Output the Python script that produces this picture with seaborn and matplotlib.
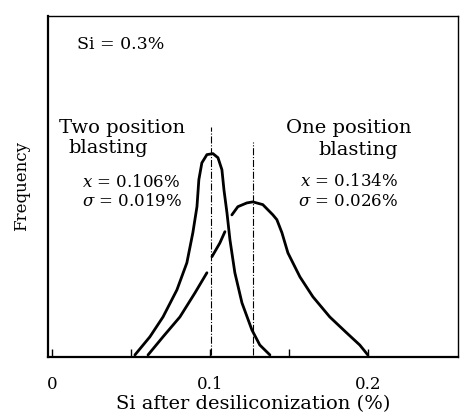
import matplotlib
matplotlib.use("Agg")
import matplotlib.pyplot as plt
import seaborn as sns
import numpy as np
import pandas as pd

# Two position blasting curve
twoX = [0.0525, 0.062, 0.0703, 0.0791, 0.0854, 0.0892, 0.0918, 0.0930, 0.0949,
        0.0981, 0.1019, 0.1051, 0.1076, 0.1089, 0.1108, 0.1127, 0.1158, 0.1203,
        0.1266, 0.1316, 0.138]
twoY = [0.0, 0.053, 0.111, 0.190, 0.269, 0.357, 0.433, 0.512, 0.561,
        0.585, 0.588, 0.576, 0.541, 0.482, 0.415, 0.336, 0.240, 0.152,
        0.073, 0.029, 0.0]

# One position blasting curve, drawn in three pieces (gaps where it crosses)
oneX = [0.0608, 0.0703, 0.0810, 0.0905, 0.0981,
        0.1013, 0.1063, 0.1095,
        0.1139, 0.1177, 0.1234, 0.1272, 0.1335, 0.1399, 0.1424, 0.1456, 0.1494,
        0.1570, 0.1652, 0.1759, 0.1867, 0.1949, 0.200]
oneY = [0.0, 0.053, 0.111, 0.181, 0.240,
        0.287, 0.327, 0.360,
        0.409, 0.433, 0.444, 0.447, 0.439, 0.409, 0.395, 0.357, 0.298,
        0.228, 0.170, 0.111, 0.064, 0.029, 0.0]
onePiece = [0] * 5 + [1] * 3 + [2] * 15

# mean lines
meanX = [0.101, 0.127]
meanTop = [0.667, 0.623]

xTicks = [0, 0.1, 0.2]
xTickLabels = ["0", "0.1", "0.2"]
minorTicks = [0.05, 0.15]


def main():
    sns.set_style("white")
    plt.rcParams['font.family'] = ['DejaVu Serif']
    plt.rcParams['mathtext.fontset'] = 'dejavuserif'
    plt.rcParams['text.color'] = 'black'
    plt.rcParams['axes.labelcolor'] = 'black'
    plt.rcParams['xtick.color'] = 'black'

    fig = plt.figure(figsize=(4.62, 4.2), dpi=100)
    ax = fig.add_axes([0.104, 0.15, 0.887, 0.812])

    two = pd.DataFrame({"x": twoX, "y": twoY})
    one = pd.DataFrame({"x": oneX, "y": oneY, "piece": onePiece})

    sns.lineplot(data=two, x="x", y="y", color="black", linewidth=2.0, ax=ax)
    sns.lineplot(data=one, x="x", y="y", units="piece", estimator=None,
                 color="black", linewidth=2.0, ax=ax)

    #mean value lines
    for mx, top in zip(meanX, meanTop):
        ax.plot([mx, mx], [0, top], color="black", linewidth=0.8, linestyle="-.")

    ax.set_xlim(-0.0025, 0.257)
    ax.set_ylim(-0.006, 0.99)

    ax.set_xticks(xTicks)
    ax.set_xticklabels(xTickLabels, fontsize=12)
    ax.set_xticks(minorTicks, minor=True)
    ax.tick_params(axis="x", which="both", direction="in", length=6, width=1,
                   bottom=True, pad=14, colors="black")
    ax.set_yticks([])

    for side in ["left", "bottom"]:
        ax.spines[side].set_linewidth(1.6)
    for side in ["top", "right"]:
        ax.spines[side].set_linewidth(1.0)
    for sp in ax.spines.values():
        sp.set_color("black")

    ax.set_xlabel("Si after desiliconization (%)", fontsize=14, labelpad=1)
    ax.set_ylabel("Frequency", fontsize=12, labelpad=13)

    #annotations
    ax.text(0.0158, 0.906, "Si = 0.3%", fontsize=12.5, va="center", ha="left")
    ax.text(0.0443, 0.664, "Two position", fontsize=14, va="center", ha="center")
    ax.text(0.0354, 0.605, "blasting", fontsize=14, va="center", ha="center")
    ax.text(0.019, 0.503, r"$x$ = 0.106%", fontsize=12, va="center", ha="left")
    ax.text(0.019, 0.447, r"$\sigma$ = 0.019%", fontsize=12, va="center", ha="left")
    ax.text(0.188, 0.664, "One position", fontsize=14, va="center", ha="center")
    ax.text(0.219, 0.599, "blasting", fontsize=14, va="center", ha="right")
    ax.text(0.219, 0.506, r"$x$ = 0.134%", fontsize=12, va="center", ha="right")
    ax.text(0.219, 0.447, r"$\sigma$ = 0.026%", fontsize=12, va="center", ha="right")

    fig.savefig("out.png", dpi=100)


if __name__ == "__main__":
    main()
